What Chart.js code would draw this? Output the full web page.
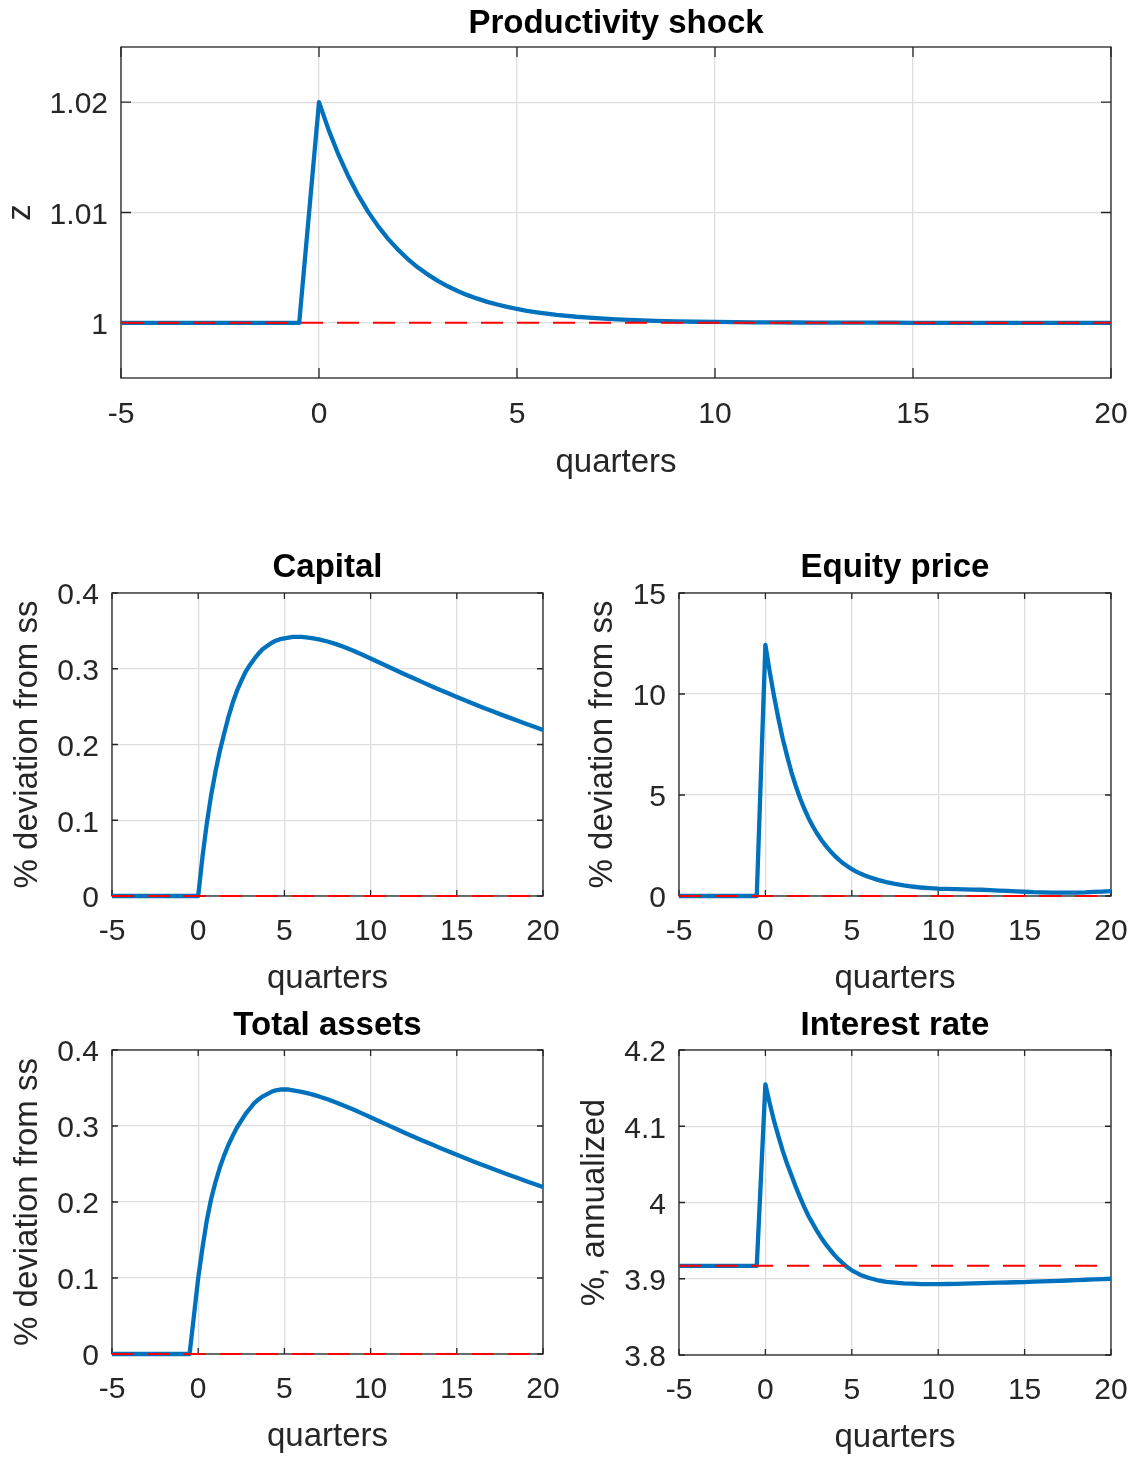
<!DOCTYPE html>
<html>
<head>
<meta charset="utf-8">
<script src="https://cdn.jsdelivr.net/npm/chart.js@4.4.1/dist/chart.umd.min.js"></script>
<style>
  html, body { margin: 0; padding: 0; background: #ffffff; }
  #figure { position: relative; width: 1135px; height: 1458px; overflow: hidden; background: #ffffff; }
  #figure canvas { position: absolute; left: 0; top: 0; }
</style>
</head>
<body>
<div id="figure">
  <canvas id="panelZ" width="1135" height="1458"></canvas>
  <canvas id="panelCapital" width="1135" height="1458"></canvas>
  <canvas id="panelEquity" width="1135" height="1458"></canvas>
  <canvas id="panelAssets" width="1135" height="1458"></canvas>
  <canvas id="panelRate" width="1135" height="1458"></canvas>
</div>
<script>
// Time grid, in quarters: pre-shock, fine steps right after impact, then half quarters
const quarters = [
  -5, -0.5,
  0, 0.25, 0.5, 0.75, 1, 1.25, 1.5, 1.75, 2, 2.25, 2.5, 2.75,
  3, 3.25, 3.5, 3.75, 4, 4.25, 4.5, 4.75, 5, 5.25, 5.5, 5.75, 6,
  6.5, 7, 7.5, 8, 8.5, 9, 9.5, 10,
  10.5, 11, 11.5, 12, 12.5, 13, 13.5, 14, 14.5, 15,
  15.5, 16, 16.5, 17, 17.5, 18, 18.5, 19, 19.5, 20
];

// Productivity level z
const productivity = [
  1, 1,
  1.02, 1.01742, 1.01517, 1.01321, 1.0115, 1.01001, 1.00872, 1.00759, 1.00661, 1.00576, 1.00501, 1.00437,
  1.0038, 1.00331, 1.00288, 1.00251, 1.00219, 1.0019, 1.00166, 1.00144, 1.00126, 1.00109, 1.00095, 1.00083, 1.00072,
  1.00055, 1.00042, 1.00032, 1.00024, 1.00018, 1.00014, 1.0001, 1.00008,
  1.00006, 1.00005, 1.00004, 1.00003, 1.00002, 1.00002, 1.00001, 1.00001, 1.00001, 1,
  1, 1, 1, 1, 1, 1, 1, 1, 1, 1
];
const productivitySS = 1;

// Capital, % deviation from steady state
const capital = [
  0, 0,
  0, 0.052, 0.096, 0.133, 0.164, 0.191, 0.214, 0.236, 0.255, 0.271, 0.284, 0.296,
  0.305, 0.313, 0.320, 0.326, 0.330, 0.334, 0.337, 0.339, 0.340, 0.341, 0.342, 0.342, 0.342,
  0.3408, 0.3388, 0.3360, 0.3325, 0.3284, 0.3238, 0.3188, 0.3136,
  0.3083, 0.3030, 0.2977, 0.2925, 0.2874, 0.2823, 0.2773, 0.2724, 0.2676, 0.2628,
  0.2581, 0.2535, 0.2490, 0.2445, 0.2401, 0.2358, 0.2316, 0.2274, 0.2233, 0.2192
];

// Equity price, % deviation from steady state
const equityPrice = [
  0, 0,
  12.43, 11.1, 9.9, 8.8, 7.8, 6.95, 6.15, 5.47, 4.85, 4.32, 3.85, 3.44,
  3.08, 2.76, 2.48, 2.23, 2.0, 1.80, 1.62, 1.47, 1.33, 1.21, 1.11, 1.02, 0.94,
  0.80, 0.69, 0.60, 0.53, 0.47, 0.42, 0.39, 0.36,
  0.35, 0.34, 0.33, 0.32, 0.31, 0.29, 0.27, 0.25, 0.23, 0.21,
  0.19, 0.18, 0.17, 0.165, 0.165, 0.17, 0.18, 0.20, 0.22, 0.24
];

// Total assets, % deviation from steady state
const totalAssets = [
  0, 0,
  0.100, 0.140, 0.176, 0.204, 0.226, 0.245, 0.261, 0.275, 0.287, 0.298, 0.307, 0.316,
  0.323, 0.330, 0.335, 0.339, 0.342, 0.345, 0.347, 0.348, 0.348, 0.348, 0.347, 0.346, 0.345,
  0.3422, 0.3389, 0.3351, 0.3309, 0.3264, 0.3216, 0.3166, 0.3115,
  0.3063, 0.3011, 0.2960, 0.2909, 0.2859, 0.2810, 0.2762, 0.2714, 0.2667, 0.2621,
  0.2576, 0.2531, 0.2487, 0.2444, 0.2401, 0.2359, 0.2318, 0.2277, 0.2237, 0.2197
];

// Interest rate, %, annualized
const interestRate = [
  3.917, 3.917,
  4.155, 4.130, 4.107, 4.087, 4.068, 4.051, 4.036, 4.021, 4.007, 3.994, 3.982, 3.972,
  3.962, 3.953, 3.945, 3.938, 3.931, 3.925, 3.920, 3.915, 3.911, 3.908, 3.905, 3.903, 3.901,
  3.898, 3.896, 3.895, 3.894, 3.8935, 3.893, 3.893, 3.893,
  3.8931, 3.8933, 3.8936, 3.8939, 3.8942, 3.8945, 3.8948, 3.8951, 3.8954, 3.8957,
  3.8961, 3.8965, 3.8969, 3.8973, 3.8977, 3.8982, 3.8987, 3.8992, 3.8996, 3.9000
];
const interestRateSS = 3.917;

// Axis ticks
const quarterTicks = [-5, 0, 5, 10, 15, 20];
const productivityTicks = [1, 1.01, 1.02];
const deviationTicks = [0, 0.1, 0.2, 0.3, 0.4];
const equityTicks = [0, 5, 10, 15];
const rateTicks = [3.8, 3.9, 4, 4.1, 4.2];

const FONT = '"Liberation Sans", Arial, Helvetica, sans-serif';
const AXIS_COLOR = '#262626';
const GRID_COLOR = '#dedede';
const LINE_BLUE = '#0072BD';
const LINE_RED = '#ff0000';

Chart.defaults.font.family = FONT;

// Closed box around the plot area with inward tick marks on all four sides
const axesBox = {
  id: 'axesBox',
  beforeDatasetsDraw(chart, args, opts) {
    const { ctx, chartArea: a, scales: { x, y } } = chart;
    const len = opts.tickLen || 6;
    ctx.save();
    ctx.strokeStyle = AXIS_COLOR;
    ctx.lineWidth = 1.3;
    ctx.beginPath();
    x.ticks.forEach(t => {
      const px = x.getPixelForValue(t.value);
      ctx.moveTo(px, a.bottom); ctx.lineTo(px, a.bottom - len);
      ctx.moveTo(px, a.top); ctx.lineTo(px, a.top + len);
    });
    y.ticks.forEach(t => {
      const py = y.getPixelForValue(t.value);
      ctx.moveTo(a.left, py); ctx.lineTo(a.left + len, py);
      ctx.moveTo(a.right, py); ctx.lineTo(a.right - len, py);
    });
    ctx.stroke();
    ctx.strokeRect(a.left, a.top, a.right - a.left, a.bottom - a.top);
    ctx.restore();
  }
};

function makePanel(id, cfg) {
  const blue = quarters.map((q, i) => ({ x: q, y: cfg.values[i] }));
  const ss = [
    { x: quarters[0], y: cfg.ss },
    { x: quarters[quarters.length - 1], y: cfg.ss }
  ];
  return new Chart(document.getElementById(id), {
    type: 'line',
    data: {
      datasets: [
        {
          data: ss, borderColor: LINE_RED, borderWidth: 2, borderDash: [22, 14],
          pointRadius: 0, clip: false, order: 0, fill: false
        },
        {
          data: blue, borderColor: LINE_BLUE, borderWidth: 4.3, pointRadius: 0,
          clip: false, order: 1, fill: false, borderJoinStyle: 'round', tension: 0
        }
      ]
    },
    options: {
      responsive: false,
      animation: false,
      events: [],
      layout: { padding: cfg.pad },
      plugins: {
        legend: { display: false },
        tooltip: { enabled: false },
        title: {
          display: true, text: cfg.title, fullSize: false, color: '#000000',
          font: { family: FONT, size: 33, weight: 'bold', lineHeight: 1.2 },
          padding: cfg.titlePad
        },
        axesBox: { tickLen: cfg.tickLen }
      },
      scales: {
        x: {
          type: 'linear', min: -5, max: 20,
          afterBuildTicks: s => { s.ticks = quarterTicks.map(v => ({ value: v })); },
          afterFit: s => { s.height = cfg.xH; s.paddingLeft = 0; s.paddingRight = 0; },
          ticks: {
            font: { family: FONT, size: 30, lineHeight: 1.2 }, color: AXIS_COLOR,
            padding: cfg.xTickPad, maxRotation: 0, autoSkip: false,
            callback: v => String(v)
          },
          grid: { color: GRID_COLOR, lineWidth: 1.3, drawTicks: false },
          border: { display: false },
          title: {
            display: true, text: 'quarters', color: AXIS_COLOR,
            font: { family: FONT, size: 33, lineHeight: 1.2 },
            padding: { top: 0, bottom: 0 }
          }
        },
        y: {
          type: 'linear', min: cfg.yMin, max: cfg.yMax,
          afterBuildTicks: s => { s.ticks = cfg.yTicks.map(v => ({ value: v })); },
          afterFit: s => { s.width = cfg.yW; s.paddingTop = 0; s.paddingBottom = 0; },
          ticks: {
            font: { family: FONT, size: 30, lineHeight: 1.2 }, color: AXIS_COLOR,
            padding: 13, autoSkip: false, labelOffset: 3,
            callback: v => String(v)
          },
          grid: { color: GRID_COLOR, lineWidth: 1.3, drawTicks: false },
          border: { display: false },
          title: {
            display: true, text: cfg.yLabel, color: AXIS_COLOR,
            font: { family: FONT, size: 33, lineHeight: 1.2 },
            padding: { top: cfg.yTitlePad, bottom: 0 }
          }
        }
      }
    },
    plugins: [axesBox]
  });
}

makePanel('panelZ', {
  title: 'Productivity shock', yLabel: 'z',
  values: productivity, ss: productivitySS,
  yMin: 0.995, yMax: 1.025, yTicks: productivityTicks,
  pad: { left: 0, top: 0, right: 24, bottom: 975 },
  titlePad: { top: 4.5, bottom: 2.9 },
  yW: 121, xH: 105, xTickPad: 19, yTitlePad: 1.2, tickLen: 10
});

makePanel('panelCapital', {
  title: 'Capital', yLabel: '% deviation from ss',
  values: capital, ss: 0,
  yMin: 0, yMax: 0.4, yTicks: deviationTicks,
  pad: { left: 0, top: 540, right: 592, bottom: 459 },
  titlePad: { top: 7.7, bottom: 5.7 },
  yW: 112, xH: 103, xTickPad: 18, yTitlePad: 8.2, tickLen: 6
});

makePanel('panelEquity', {
  title: 'Equity price', yLabel: '% deviation from ss',
  values: equityPrice, ss: 0,
  yMin: 0, yMax: 15, yTicks: equityTicks,
  pad: { left: 567, top: 540, right: 24, bottom: 459 },
  titlePad: { top: 7.7, bottom: 5.7 },
  yW: 112, xH: 103, xTickPad: 18, yTitlePad: 16.2, tickLen: 6
});

makePanel('panelAssets', {
  title: 'Total assets', yLabel: '% deviation from ss',
  values: totalAssets, ss: 0,
  yMin: 0, yMax: 0.4, yTicks: deviationTicks,
  pad: { left: 0, top: 997, right: 592, bottom: 1 },
  titlePad: { top: 8.7, bottom: 4.7 },
  yW: 112, xH: 103, xTickPad: 18, yTitlePad: 8.2, tickLen: 6
});

makePanel('panelRate', {
  title: 'Interest rate', yLabel: '%, annualized',
  values: interestRate, ss: interestRateSS,
  yMin: 3.8, yMax: 4.2, yTicks: rateTicks,
  pad: { left: 568, top: 997, right: 24, bottom: 0 },
  titlePad: { top: 8.7, bottom: 4.7 },
  yW: 111, xH: 103, xTickPad: 18, yTitlePad: 7.2, tickLen: 6
});
</script>
</body>
</html>
